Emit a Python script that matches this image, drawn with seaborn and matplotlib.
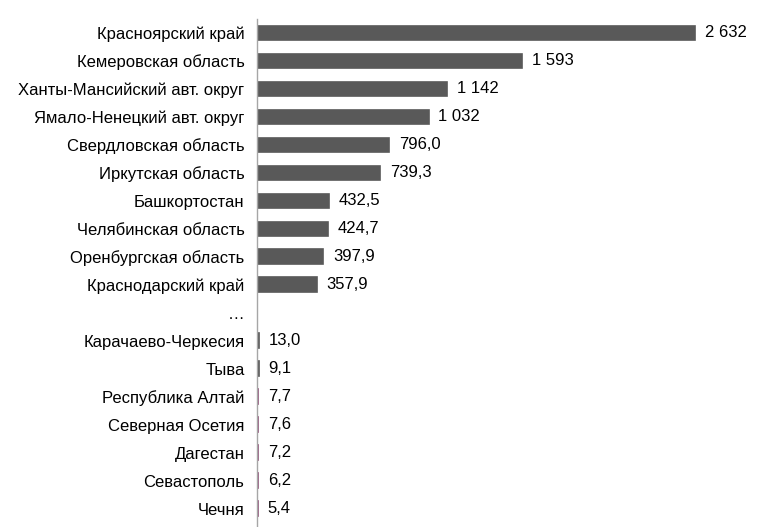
import matplotlib
matplotlib.use("Agg")
import matplotlib.pyplot as plt
import seaborn as sns
import pandas as pd

# Данные
regions = [
    "Красноярский край", "Кемеровская область", "Ханты-Мансийский авт. округ",
    "Ямало-Ненецкий авт. округ", "Свердловская область", "Иркутская область",
    "Башкортостан", "Челябинская область", "Оренбургская область",
    "Краснодарский край", "…", "Карачаево-Черкесия", "Тыва",
    "Республика Алтай", "Северная Осетия", "Дагестан", "Севастополь", "Чечня",
]
values = [2632, 1593, 1142, 1032, 796.0, 739.3, 432.5, 424.7, 397.9, 357.9,
          0, 13.0, 9.1, 7.7, 7.6, 7.2, 6.2, 5.4]
bar_colors = ["#595959"] * 13 + ["#8e4a75"] * 5


def fmt(v, name):
    if name == "…":
        return ""
    if v >= 1000:
        return f"{v:,.0f}".replace(",", " ")
    return f"{v:.1f}".replace(".", ",")


value_labels = [fmt(v, r) for v, r in zip(values, regions)]

df = pd.DataFrame({"region": regions, "value": values})

sns.set_theme(style="white")
plt.rcParams["font.family"] = ["Liberation Sans", "DejaVu Sans"]

fig = plt.figure(figsize=(7.6, 5.27), dpi=100)
ax = fig.add_axes([257 / 760, 0, 483 / 760, 508 / 527])

sns.barplot(data=df, x="value", y="region", order=regions, color="#595959",
            width=0.52, saturation=1, ax=ax)
for patch, c, r in zip(ax.patches, bar_colors, regions):
    patch.set_facecolor(c)
    # тонкая обводка, чтобы маленькие столбики были видны
    patch.set_edgecolor(c if r != "…" else "none")
    patch.set_linewidth(1.2)

ax.bar_label(ax.containers[0], labels=value_labels, padding=7, fontsize=12,
             color="#000000")

ax.set_xlim(0, 2632 * 483 / 438)
ax.set_ylim(len(regions) - 0.5 + 4.5 / 28, -0.5)
ax.set_xlabel("")
ax.set_ylabel("")
ax.set_xticks([])
ax.tick_params(axis="y", length=0, pad=9, labelsize=12, labelcolor="#000000")

for s in ["top", "right", "bottom"]:
    ax.spines[s].set_visible(False)
ax.spines["left"].set_color("#a6a6a6")
ax.spines["left"].set_linewidth(1)

fig.savefig("out.png", dpi=100)
